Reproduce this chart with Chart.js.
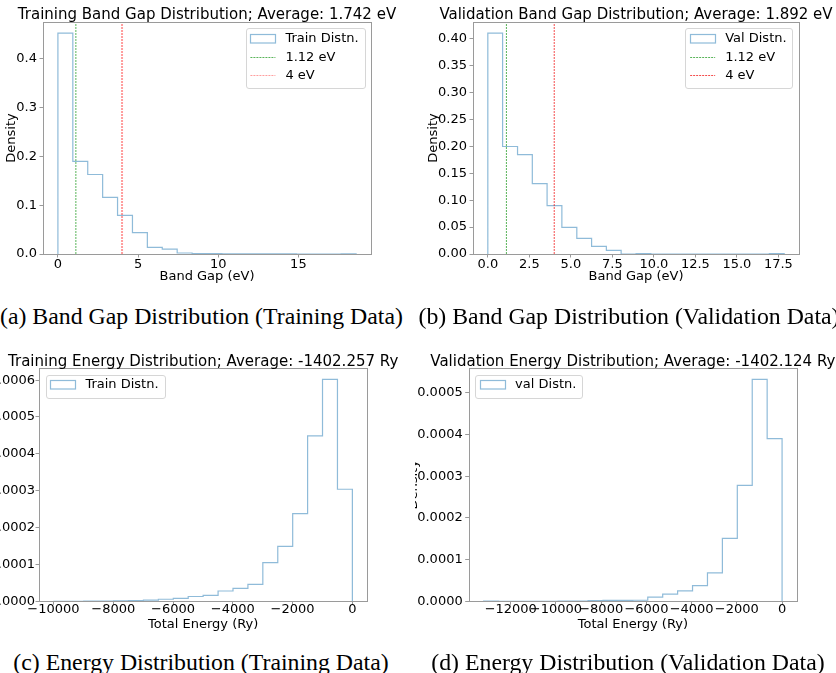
<!DOCTYPE html>
<html>
<head>
<meta charset="utf-8">
<script src="https://cdn.jsdelivr.net/npm/chart.js@4.4.1/dist/chart.umd.min.js"></script>
<style>
  body { margin: 0; background: #fff; width: 836px; height: 673px; position: relative; overflow: hidden; }
  .panel { position: absolute; overflow: hidden; }
  .panel canvas { position: absolute; top: 0; }
  .cap { position: absolute; font-family: "Liberation Serif", "Times New Roman", serif; font-size: 23.8px;
         line-height: 26px; color: #000; white-space: nowrap; text-align: center; }
</style>
</head>
<body>
<div class="panel" style="left:0;top:0;width:416px;height:290px"><canvas id="cA" width="416" height="290" style="left:0"></canvas></div>
<div class="panel" style="left:416px;top:0;width:420px;height:290px"><canvas id="cB" width="420" height="290" style="left:0"></canvas></div>
<div class="panel" style="left:0;top:340px;width:416px;height:300px"><canvas id="cC" width="446" height="300" style="left:-30px"></canvas></div>
<div class="panel" style="left:415px;top:340px;width:421px;height:300px"><canvas id="cD" width="437" height="300" style="left:-15px"></canvas></div>

<div class="cap" style="left:0;top:303px;width:402px">(a) Band Gap Distribution (Training Data)</div>
<div class="cap" style="left:417px;top:303px;width:424px">(b) Band Gap Distribution (Validation Data)</div>
<div class="cap" style="left:0;top:649px;width:402px">(c) Energy Distribution (Training Data)</div>
<div class="cap" style="left:418px;top:649px;width:420px">(d) Energy Distribution (Validation Data)</div>

<script>
// histogram bin edges and densities
var gapTrainEdges = [0, 0.93, 1.86, 2.79, 3.72, 4.65, 5.58, 6.51, 7.44, 8.37, 9.3, 10.23, 11.16, 12.09, 13.02, 13.95, 14.88, 15.81, 16.74, 17.67, 18.6];
var gapTrainDensity = [0.453, 0.190, 0.163, 0.116, 0.079, 0.044, 0.0137, 0.0100, 0.0020, 0.0010, 0.0006, 0.0004, 0.0003, 0.0002, 0.0001, 0.0001, 0.00005, 0.00003, 0.00002, 0.0001];

var gapValEdges = [0, 0.89, 1.79, 2.68, 3.57, 4.46, 5.36, 6.25, 7.14, 8.03, 8.93, 9.82, 10.71, 11.6, 12.5, 13.39, 14.28, 15.17, 16.07, 16.96, 17.85];
var gapValDensity = [0.411, 0.200, 0.185, 0.131, 0.090, 0.0495, 0.029, 0.0142, 0.0068, 0, 0.0008, 0, 0, 0, 0, 0, 0, 0, 0, 0.0006];

var energyTrainEdges = [-9985, -9486, -8987, -8487, -7988, -7489, -6990, -6490, -5991, -5492, -4993, -4493, -3994, -3495, -2996, -2496, -1997, -1498, -999, -499, 0];
var energyTrainDensity = [0.0000002, 0.0000002, 0.0000004, 0.0000005, 0.0000015, 0.000002, 0.000003, 0.0000055, 0.000008, 0.000013,
    0.000016, 0.000028, 0.000035, 0.000046, 0.000105, 0.000149, 0.000238, 0.000449, 0.000602, 0.000304];

var energyValEdges = [-13200, -12540, -11880, -11220, -10560, -9900, -9240, -8580, -7920, -7260, -6600, -5940, -5280, -4620, -3960, -3300, -2640, -1980, -1320, -660, 0];
var energyValDensity = [0.0000003, 0.0000001, 0, 0, 0.0000001, 0.0000002, 0.0000005, 0.0000015, 0.000002, 0.000002,
    0.0000025, 0.000010, 0.000017, 0.000025, 0.0000375, 0.000068, 0.000151, 0.000278, 0.000532, 0.000390];

// reference lines (eV)
var refLines = [1.12, 4];
var refLabels = ["1.12 eV", "4 eV"];

// tick labels
var gapTrainXTicks = [0, 5, 10, 15];
var gapTrainYTicks = [0, 0.1, 0.2, 0.3, 0.4];
var gapValXTicks = [0, 2.5, 5, 7.5, 10, 12.5, 15, 17.5];
var gapValYTicks = [0, 0.05, 0.10, 0.15, 0.20, 0.25, 0.30, 0.35, 0.40];
var energyTrainXTicks = [-10000, -8000, -6000, -4000, -2000, 0];
var energyTrainYTicks = [0, 0.0001, 0.0002, 0.0003, 0.0004, 0.0005, 0.0006];
var energyValXTicks = [-12000, -10000, -8000, -6000, -4000, -2000, 0];
var energyValYTicks = [0, 0.0001, 0.0002, 0.0003, 0.0004, 0.0005];

Chart.defaults.font.family = "'DejaVu Sans', sans-serif";
Chart.defaults.font.size = 13;
Chart.defaults.color = '#000';

var HIST_COLOR = 'rgba(31,119,180,0.5)';
var SPINE = '#9a9a9a';

function stepPoints(edges, dens) {
    var pts = [{x: edges[0], y: 0}];
    dens.forEach(function(d, i){
        pts.push({x: edges[i], y: d});
        pts.push({x: edges[i + 1], y: d});
    });
    pts.push({x: edges[edges.length - 1], y: 0});
    return pts;
}

function minusFmt(v) {
    return (v < 0 ? '\u2212' : '') + Math.abs(v);
}

// frame (all four spines) + title centred over the axes + boxed legend
var decor = {
    id: 'decor',
    afterDatasetsDraw: function(chart, args, o) {
        var ctx = chart.ctx, a = chart.chartArea;
        ctx.save();
        ctx.strokeStyle = SPINE;
        ctx.lineWidth = 1;
        ctx.strokeRect(Math.round(a.left) + 0.5, Math.round(a.top) + 0.5,
            Math.round(a.right) - Math.round(a.left), Math.round(a.bottom) - Math.round(a.top));

        ctx.fillStyle = '#000';
        ctx.font = "15px 'DejaVu Sans'";
        ctx.textAlign = 'center';
        ctx.textBaseline = 'alphabetic';
        ctx.fillText(o.title, (a.left + a.right) / 2, a.top - o.titleGap);

        // legend
        ctx.font = "13px 'DejaVu Sans'";
        var items = o.items;
        var tw = 0;
        items.forEach(function(it){ tw = Math.max(tw, ctx.measureText(it.text).width); });
        var w = 4.7 + 25 + 10 + tw + 5.7;
        var h = 10 + (items.length - 1) * 18.5 + 12.5;
        var x = o.side === 'left' ? a.left + 6.7 : a.right - 6.7 - w;
        var y = a.top + 6.3;
        ctx.beginPath();
        ctx.roundRect(Math.round(x) + 0.5, Math.round(y) + 0.5, Math.round(w), Math.round(h), 2.5);
        ctx.fillStyle = 'rgba(255,255,255,0.8)';
        ctx.fill();
        ctx.strokeStyle = '#d6d6d6';
        ctx.stroke();
        ctx.textAlign = 'left';
        ctx.textBaseline = 'middle';
        items.forEach(function(it, i){
            var cy = y + 10 + i * 18.5;
            var px = x + 4.7;
            ctx.strokeStyle = it.color;
            ctx.lineWidth = it.width || 1;
            if (it.kind === 'patch') {
                ctx.setLineDash([]);
                ctx.strokeRect(Math.round(px) + 0.5, Math.round(cy - 4.5) + 0.5, 25, 8.5);
            } else {
                ctx.setLineDash([2, 1]);
                ctx.beginPath();
                ctx.moveTo(px, Math.round(cy) + 0.5);
                ctx.lineTo(px + 25, Math.round(cy) + 0.5);
                ctx.stroke();
                ctx.setLineDash([]);
            }
            ctx.fillStyle = '#000';
            ctx.fillText(it.text, px + 35, cy + 0.5);
        });
        ctx.restore();
    }
};

function histChart(id, c) {
    var first = c.edges[0], last = c.edges[c.edges.length - 1];
    var span = last - first;
    var xMin = first - 0.05 * span, xMax = last + 0.05 * span;
    var yMax = Math.max.apply(null, c.dens) * 1.05;

    var datasets = [{
        data: stepPoints(c.edges, c.dens),
        borderColor: HIST_COLOR, borderWidth: 1.2, pointRadius: 0, tension: 0, fill: false, order: 2
    }];
    var items = [{text: c.label, kind: 'patch', color: HIST_COLOR, width: 1.2}];
    (c.vlines || []).forEach(function(v){
        datasets.push({
            data: [{x: v.x, y: 0}, {x: v.x, y: yMax}],
            borderColor: v.color, borderWidth: v.width, borderDash: [2, 1],
            pointRadius: 0, fill: false, order: 1
        });
        items.push({text: v.label, kind: 'line', color: v.color, width: 1});
    });

    return new Chart(document.getElementById(id), {
        type: 'line',
        data: {datasets: datasets},
        options: {
            responsive: false,
            animation: false,
            events: [],
            layout: {padding: {top: c.padTop, right: c.padRight, left: 0, bottom: 0}},
            plugins: {
                legend: {display: false},
                tooltip: {enabled: false},
                decor: {title: c.title, titleGap: c.titleGap, items: items, side: c.legendSide}
            },
            scales: {
                x: {
                    type: 'linear', min: xMin, max: xMax,
                    afterFit: function(s){ s.height = c.xAxisH; },
                    afterBuildTicks: function(s){ s.ticks = c.xTicks.map(function(v){ return {value: v}; }); },
                    ticks: {autoSkip: false, maxRotation: 0, padding: c.xTickPad, callback: c.xFmt},
                    grid: {drawOnChartArea: false, drawTicks: true, tickLength: 3.5, color: SPINE},
                    border: {display: false},
                    title: {display: true, text: c.xTitle, padding: {top: c.xTitlePad, bottom: c.xTitlePad}}
                },
                y: {
                    type: 'linear', min: 0, max: yMax,
                    afterFit: function(s){ s.width = c.yAxisW; },
                    afterBuildTicks: function(s){ s.ticks = c.yTicks.map(function(v){ return {value: v}; }); },
                    ticks: {autoSkip: false, padding: c.yTickPad, callback: c.yFmt},
                    grid: {drawOnChartArea: false, drawTicks: true, tickLength: 3.5, color: SPINE},
                    border: {display: false},
                    title: {display: true, text: 'Density', padding: {top: c.yTitlePad, bottom: c.yTitlePad}}
                }
            }
        },
        plugins: [decor]
    });
}

histChart('cA', {
    edges: gapTrainEdges, dens: gapTrainDensity, label: 'Train Distn.',
    title: 'Training Band Gap Distribution; Average: 1.742 eV', titleGap: 3.5,
    xTicks: gapTrainXTicks, yTicks: gapTrainYTicks, xTitle: 'Band Gap (eV)',
    xFmt: function(v){ return String(v); }, yFmt: function(v){ return v.toFixed(1); },
    vlines: [{x: refLines[0], label: refLabels[0], color: 'rgba(0,140,0,0.65)', width: 1},
             {x: refLines[1], label: refLabels[1], color: 'rgba(255,0,0,0.38)', width: 2}],
    legendSide: 'right', padTop: 22, padRight: 45, yAxisW: 43, xAxisH: 36,
    xTickPad: -1, xTitlePad: 5.5, yTitlePad: 4.2, yTickPad: 2.5
});

histChart('cB', {
    edges: gapValEdges, dens: gapValDensity, label: 'Val Distn.',
    title: 'Validation Band Gap Distribution; Average: 1.892 eV', titleGap: 3.5,
    xTicks: gapValXTicks, yTicks: gapValYTicks, xTitle: 'Band Gap (eV)',
    xFmt: function(v){ return v.toFixed(1); }, yFmt: function(v){ return v.toFixed(2); },
    vlines: [{x: refLines[0], label: refLabels[0], color: 'rgba(0,140,0,0.65)', width: 1},
             {x: refLines[1], label: refLabels[1], color: 'rgba(240,0,0,0.7)', width: 1}],
    legendSide: 'right', padTop: 22, padRight: 37, yAxisW: 57, xAxisH: 36,
    xTickPad: -1, xTitlePad: 5.5, yTitlePad: 9.7, yTickPad: 2.5
});

histChart('cC', {
    edges: energyTrainEdges, dens: energyTrainDensity, label: 'Train Distn.',
    title: 'Training Energy Distribution; Average: -1402.257 Ry', titleGap: 2.5,
    xTicks: energyTrainXTicks, yTicks: energyTrainYTicks, xTitle: 'Total Energy (Ry)',
    xFmt: minusFmt, yFmt: function(v){ return v.toFixed(4); },
    legendSide: 'left', padTop: 28.3, padRight: 48.7, yAxisW: 69, xAxisH: 38.7,
    xTickPad: -3, xTitlePad: 7.5, yTitlePad: 4.2, yTickPad: 0.5
});

histChart('cD', {
    edges: energyValEdges, dens: energyValDensity, label: 'val Distn.',
    title: 'Validation Energy Distribution; Average: -1402.124 Ry', titleGap: 2.5,
    xTicks: energyValXTicks, yTicks: energyValYTicks, xTitle: 'Total Energy (Ry)',
    xFmt: minusFmt, yFmt: function(v){ return v.toFixed(4); },
    legendSide: 'left', padTop: 28.3, padRight: 40, yAxisW: 68.7, xAxisH: 38.7,
    xTickPad: -3, xTitlePad: 7.5, yTitlePad: 5.5, yTickPad: 2.5
});
</script>
</body>
</html>
